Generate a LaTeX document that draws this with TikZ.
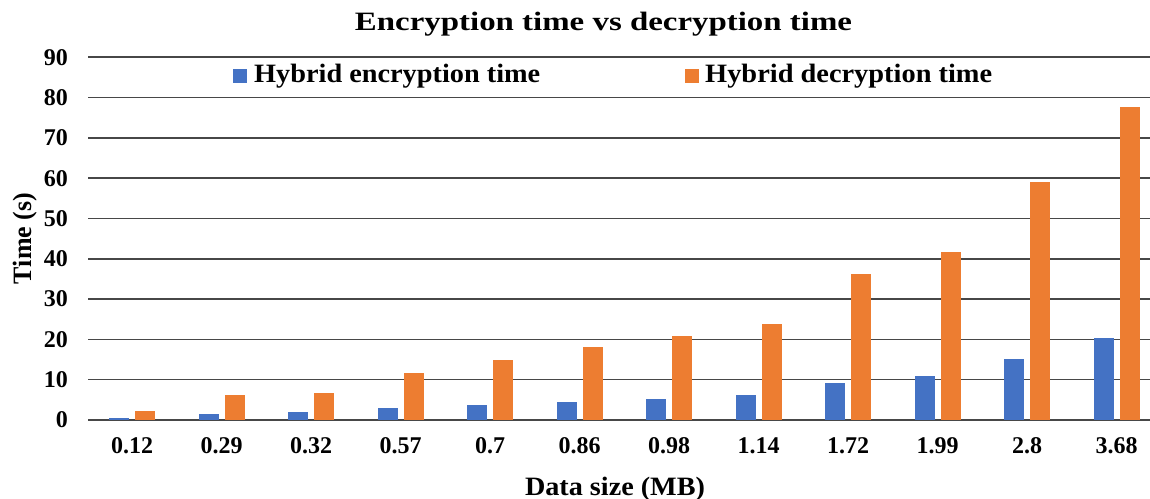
\documentclass[tikz,border=0pt]{standalone}
\usepackage{fontspec}
\setmainfont{Liberation Serif}
\usepackage{graphicx}
\definecolor{encblue}{HTML}{4472C4}
\definecolor{decorange}{HTML}{ED7D31}
\newcommand{\fitto}[2]{\resizebox{#1bp}{\height}{#2}}
\tikzset{
  gridline/.style={draw=black!72,line width=1.6bp},
  ticklab/.style={inner sep=0pt,font=\fontsize{24bp}{24bp}\selectfont\bfseries},
  biglab/.style={inner sep=0pt,font=\fontsize{26.5bp}{27bp}\selectfont\bfseries},
  encbar/.style={fill=encblue,draw=none},
  decbar/.style={fill=decorange,draw=none}
}
\begin{document}
\begin{tikzpicture}[x=1bp,y=-1bp]
\useasboundingbox[fill=white] (0,0) rectangle (1150,499);
% grid and y ticks
\foreach \v in {0,10,...,90}{
  \draw[gridline] (88,{420-4.03*\v}) -- (1150,{420-4.03*\v});
  \node[ticklab,anchor=east] (ytick\v) at (68,{420-4.03*\v}) {\v};
}
% bars
\foreach \i/\lab/\e/\d in {0/0.12/0.6/2.3,1/0.29/1.5/6.2,2/0.32/1.9/6.6,3/0.57/3.1/11.7,4/0.7/3.6/14.8,5/0.86/4.5/18.2,6/0.98/5.3/20.8,7/1.14/6.2/23.8,8/1.72/9.2/36.2,9/1.99/11.0/41.8,10/2.8/15.2/59.1,11/3.68/20.3/77.6}{
  \pgfmathsetmacro{\c}{132+89.5*\i}
  \fill[encbar] ({\c-23},420) rectangle ({\c-3},{420-4.03*\e});
  \fill[decbar] ({\c+3},420) rectangle ({\c+23},{420-4.03*\d});
  \node[ticklab] (cat\i) at (\c,445.7) {\lab};
}
% title
\node[biglab,anchor=base] (title) at (603.5,31) {\fitto{497}{Encryption time vs decryption time}};
% legend
\fill[encblue] (233,69) rectangle (247,83);
\node[biglab,anchor=base west] (legenc) at (254,83) {\fitto{286}{Hybrid encryption time}};
\fill[decorange] (685,69) rectangle (699,83);
\node[biglab,anchor=base west] (legdec) at (705,83) {\fitto{287}{Hybrid decryption time}};
% axis titles
\node[biglab,anchor=base] (xtitle) at (615,495) {\fitto{180}{Data size (MB)}};
\node[biglab,anchor=base,rotate=90] (ytitle) at (31,238.5) {\fitto{91}{Time (s)}};
\end{tikzpicture}
\end{document}
